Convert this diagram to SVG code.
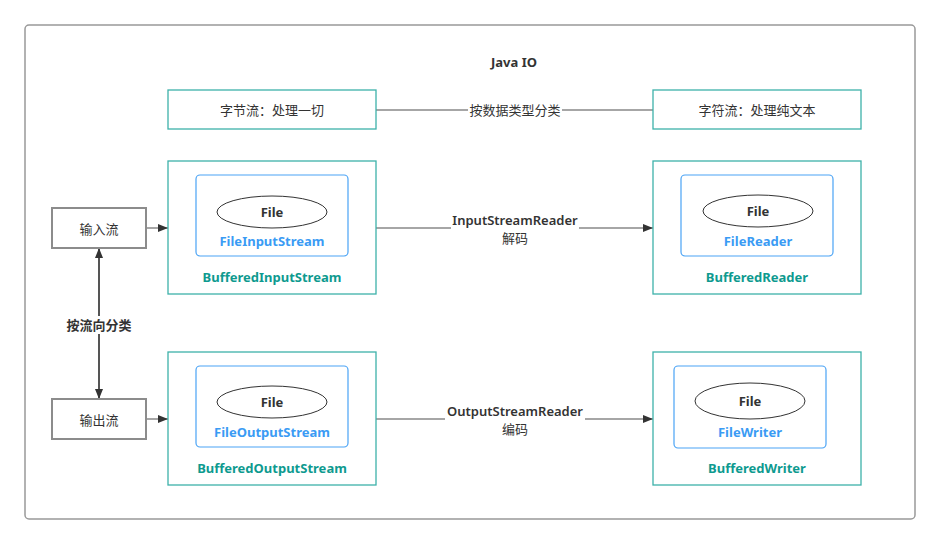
<svg xmlns="http://www.w3.org/2000/svg" width="940" height="544" viewBox="0 0 940 544">
<defs>
<style>
text{font-family:"Noto Sans","Noto Sans CJK SC",sans-serif;font-size:13px;text-anchor:middle;dominant-baseline:central;fill:#333}
.b{font-weight:bold}
.m{font-weight:600}
.blue{fill:#3a9bf4;font-weight:bold}
.teal{fill:#0e9a8f;font-weight:bold}
.tb{fill:#fff;stroke:#3db1aa;stroke-width:1.3}
.ib{fill:#fff;stroke:#4aa3f5;stroke-width:1.2}
.el{fill:#fff;stroke:#333;stroke-width:1}
.gb{fill:#fff;stroke:#8c8c8c;stroke-width:2}
.ln{fill:none;stroke:#888;stroke-width:1.5}
.dk{fill:none;stroke:#555;stroke-width:2}
</style>
<marker id="ar" viewBox="0 0 10 10" refX="10" refY="5" markerWidth="10" markerHeight="10" markerUnits="userSpaceOnUse" orient="auto-start-reverse"><path d="M0,1 L10,5 L0,9 Z" fill="#333"/></marker>
</defs>
<rect width="940" height="544" fill="#fff"/>
<rect x="25" y="25" width="890" height="494" rx="4" fill="#fff" stroke="#999" stroke-width="1.5"/>
<text x="514" y="62" class="b">Java IO</text>

<g id="connectors">
<line x1="376" y1="110" x2="653" y2="110" class="ln"/>
<rect x="468" y="101" width="94" height="18" fill="#fff"/>
<text x="515" y="110">按数据类型分类</text>
<line x1="146" y1="228" x2="168" y2="228" class="ln" marker-end="url(#ar)"/>
<line x1="146" y1="419" x2="168" y2="419" class="ln" marker-end="url(#ar)"/>
<line x1="99" y1="248" x2="99" y2="399" class="dk" marker-start="url(#ar)" marker-end="url(#ar)"/>
<rect x="66" y="316" width="66" height="18" fill="#fff"/>
<text x="99" y="325" class="m">按流向分类</text>
<line x1="376" y1="228" x2="653" y2="228" class="ln" marker-end="url(#ar)"/>
<rect x="451" y="212" width="128" height="34" fill="#fff"/>
<text x="515" y="220" class="m">InputStreamReader</text>
<text x="515" y="238">解码</text>
<line x1="376" y1="419" x2="653" y2="419" class="ln" marker-end="url(#ar)"/>
<rect x="445" y="403" width="140" height="34" fill="#fff"/>
<text x="515" y="411" class="m">OutputStreamReader</text>
<text x="515" y="429">编码</text>
</g>

<g id="byteStream"><rect x="168" y="90" width="208" height="39" class="tb"/><text x="272" y="110">字节流：处理一切</text></g>
<g id="charStream"><rect x="653" y="90" width="208" height="39" class="tb"/><text x="757" y="110">字符流：处理纯文本</text></g>

<g id="inputFlow"><rect x="52" y="208" width="94" height="40" class="gb"/><text x="99" y="229">输入流</text></g>
<g id="outputFlow"><rect x="52" y="399" width="94" height="40" class="gb"/><text x="99" y="420">输出流</text></g>

<g id="bufferedInputStream">
<rect x="168" y="161" width="208" height="133" class="tb"/>
<rect x="196" y="175" width="152" height="81" rx="4" class="ib"/>
<ellipse cx="272" cy="212" rx="55" ry="16" class="el"/>
<text x="272" y="212" class="b">File</text>
<text x="272" y="241" class="blue">FileInputStream</text>
<text x="272" y="277" class="teal">BufferedInputStream</text>
</g>

<g id="bufferedReader">
<rect x="653" y="161" width="208" height="133" class="tb"/>
<rect x="681" y="175" width="152" height="81" rx="4" class="ib"/>
<ellipse cx="758" cy="211" rx="55" ry="16" class="el"/>
<text x="758" y="211" class="b">File</text>
<text x="758" y="241" class="blue">FileReader</text>
<text x="757" y="277" class="teal">BufferedReader</text>
</g>

<g id="bufferedOutputStream">
<rect x="168" y="352" width="208" height="133" class="tb"/>
<rect x="196" y="366" width="152" height="81" rx="4" class="ib"/>
<ellipse cx="272" cy="402" rx="55" ry="16" class="el"/>
<text x="272" y="402" class="b">File</text>
<text x="272" y="432" class="blue">FileOutputStream</text>
<text x="272" y="468" class="teal">BufferedOutputStream</text>
</g>

<g id="bufferedWriter">
<rect x="653" y="352" width="208" height="133" class="tb"/>
<rect x="674" y="366" width="152" height="82" rx="4" class="ib"/>
<ellipse cx="750" cy="401" rx="55" ry="18" class="el"/>
<text x="750" y="401" class="b">File</text>
<text x="750" y="432" class="blue">FileWriter</text>
<text x="757" y="468" class="teal">BufferedWriter</text>
</g>
</svg>
